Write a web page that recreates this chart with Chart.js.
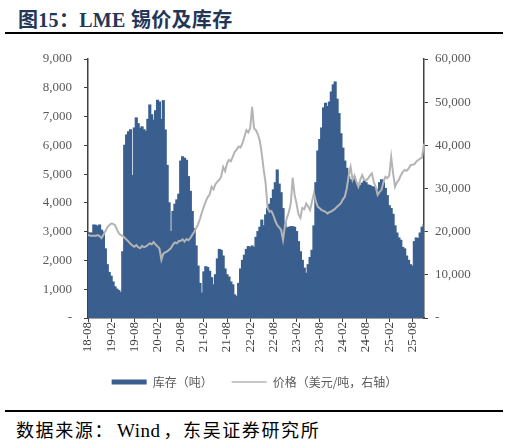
<!DOCTYPE html>
<html>
<head>
<meta charset="utf-8">
<script src="https://cdn.jsdelivr.net/npm/chart.js@4.4.0/dist/chart.umd.min.js"></script>
<style>
body{margin:0;background:#fff;width:509px;height:443px;position:relative;overflow:hidden;font-family:"Liberation Serif","Noto Sans CJK SC",serif;}
#title{position:absolute;left:18px;top:4px;font-size:20px;font-weight:bold;color:#243656;white-space:nowrap;letter-spacing:0.3px;}
.rule{position:absolute;left:5px;width:498px;height:2px;background:#000;}
#box{position:absolute;left:0;top:36px;width:509px;height:362px;}
#src{position:absolute;left:16px;top:416px;font-size:18px;color:#000;letter-spacing:1.6px;white-space:nowrap;}
#src .w{font-size:19px;letter-spacing:0.5px;padding:0 3px;}
</style>
</head>
<body>
<div id="title">图15：LME 锡价及库存</div>
<div class="rule" style="top:32px"></div>
<div id="box"><canvas id="myChart"></canvas></div>
<div class="rule" style="top:410px"></div>
<div id="src">数据来源：<span class="w">Wind</span>，东吴证券研究所</div>
<script>
// half-month points, 2018-08 .. 2025-11
const xTickLabels = ["18-08","19-02","19-08","20-02","20-08","21-02","21-08","22-02",
  "22-08","23-02","23-08","24-02","24-08","25-02","25-08"];

// LME stock, tonnes
const stock = [
  2960,2950,2950,3230,3220,3180,3230,3050,2980,2400,
  1850,1580,1450,1250,1080,1000,950,880,2300,6000,
  6360,6470,6540,4950,6600,6950,6750,6590,6640,6540,
  6480,6900,7400,7060,6870,7200,7560,7500,6900,7550,
  6530,5300,4000,3000,3700,3950,4100,4300,5450,5600,
  5550,5480,4910,4400,3700,3100,2500,1800,1200,860,
  1600,1780,1750,1620,1400,1150,1500,2050,2380,2350,
  2150,1700,1500,1420,1250,1150,800,740,1200,1700,
  2000,2180,2380,2480,2450,2500,2450,2800,3000,3150,
  3400,3200,3580,3800,3950,4150,4450,4700,5140,4650,
  4350,3800,3300,3120,3150,3170,3170,3150,3000,2650,
  2300,2000,1730,1550,1850,2100,2350,3200,4700,5800,
  6200,6600,7300,7460,7350,7500,7850,8100,8200,7600,
  7100,6400,5900,5450,5200,4900,4800,4750,4900,4700,
  4500,4600,4680,4750,4700,4620,4600,4560,4550,4500,
  4450,4700,4800,4700,4500,4250,3900,3800,3600,3200,
  2950,2780,2700,2450,2400,2150,2000,1850,1800,2650,
  2780,2760,2950,3150,3230
];

// LME tin price, USD/t (right axis)
const price = [
  19230,19100,19000,19100,19000,19200,19000,18500,19300,20100,
  21000,21500,21900,21800,21500,20500,19600,19200,19000,18600,
  18100,17700,17200,16800,16500,16900,16400,16150,16700,16400,
  16600,16900,17300,17100,17600,17000,16600,16100,13500,14900,
  15200,15400,15800,16200,17000,17500,17300,17800,17900,18200,
  17700,18300,18000,18500,19300,20000,20800,21700,23000,24500,
  25800,27000,28000,28600,30400,29800,31000,31600,32000,32800,
  35000,34000,35800,36600,36300,37400,38500,39000,39700,39500,
  40500,42000,43500,43000,44000,48900,43900,43500,42500,41000,
  38000,34300,31200,25500,24600,24800,23800,22500,21500,21000,
  20400,18100,21500,23200,24500,26500,32500,28500,26500,24000,
  23200,25500,25200,26500,25800,25000,27000,28900,27000,25800,
  25400,25000,24800,24600,24200,24500,24700,25000,25300,25800,
  26200,26600,27500,28100,30000,33000,35000,32000,33000,31500,
  30400,32000,33100,32000,31900,32300,33000,33500,31500,30400,
  28500,29200,29700,31500,32700,32400,33000,37300,33500,30400,
  31500,32000,33100,33800,34300,34100,34600,35400,35500,35600,
  36200,36600,36900,37200,40400
];

let labels = [];
for (let k = 0; k < stock.length; k++) {
  let m = 7 + Math.floor(k / 2);
  let yy = 18 + Math.floor(m / 12);
  let mm = (m % 12) + 1;
  labels.push(yy + "-" + (mm < 10 ? "0" + mm : mm));
}

const axisColor = "#404040";
const tickFont = { family: "Liberation Serif", size: 13 };
const fmt = (v) => (v === 0 ? "-" : v.toLocaleString("en-US"));

const ctx = document.getElementById("myChart");
let ch = new Chart(ctx, {
  type: "bar",
  data: {
    labels: labels,
    datasets: [
      {
        label: "库存（吨）",
        data: stock,
        backgroundColor: "#3a5f8f",
        borderWidth: 0,
        barPercentage: 1,
        categoryPercentage: 1,
        inflateAmount: 0.6,
        yAxisID: "y",
        order: 1,
      },
      {
        type: "line",
        label: "价格（美元/吨，右轴）",
        data: price,
        borderColor: "#b4b4b4",
        backgroundColor: "#b4b4b4",
        borderWidth: 2,
        pointRadius: 0,
        tension: 0,
        yAxisID: "y1",
        order: 0,
      },
    ],
  },
  options: {
    responsive: true,
    maintainAspectRatio: false,
    animation: false,
    layout: { padding: { top: 23, left: 0, right: 0, bottom: 0 } },
    plugins: {
      tooltip: { enabled: false },
      legend: {
        position: "bottom",
        labels: {
          usePointStyle: true,
          pointStyleWidth: 35,
          padding: 19,
          color: "#595959",
          font: { family: "Noto Sans CJK SC", size: 12 },
          generateLabels(chart) {
            let items = Chart.defaults.plugins.legend.labels.generateLabels(chart);
            items.sort((a, b) => a.datasetIndex - b.datasetIndex);
            items.forEach((it) => {
              let ds = chart.data.datasets[it.datasetIndex];
              it.pointStyle = "line";
              it.strokeStyle = ds.type === "line" ? ds.borderColor : ds.backgroundColor;
              it.lineWidth = ds.type === "line" ? 1.5 : 5;
              it.fontColor = "#595959";
            });
            return items;
          },
        },
      },
    },
    scales: {
      x: {
        offset: false,
        grid: { offset: false, drawOnChartArea: false, tickLength: 4, color: axisColor },
        border: { color: axisColor, width: 1.5 },
        ticks: {
          autoSkip: false,
          minRotation: 90,
          maxRotation: 90,
          padding: 0,
          color: axisColor,
          font: tickFont,
          callback: (v, i) => (i % 12 === 0 ? xTickLabels[i / 12] : null),
        },
        afterFit: (s) => { s.height = 39; },
      },
      y: {
        position: "left",
        min: 0,
        max: 9000,
        grid: { drawOnChartArea: false, tickLength: 4, color: axisColor },
        border: { color: axisColor, width: 1.5 },
        ticks: { stepSize: 1000, padding: 12, color: "#595959", font: tickFont, callback: fmt },
        afterFit: (s) => { s.width = 88; },
      },
      y1: {
        position: "right",
        min: 0,
        max: 60000,
        grid: { drawOnChartArea: false, tickLength: 4, color: axisColor },
        border: { color: axisColor, width: 1.5 },
        ticks: { stepSize: 10000, padding: 7, color: "#595959", font: tickFont, callback: fmt },
        afterFit: (s) => { s.width = 85; },
      },
    },
  },
});
</script>
</body>
</html>
